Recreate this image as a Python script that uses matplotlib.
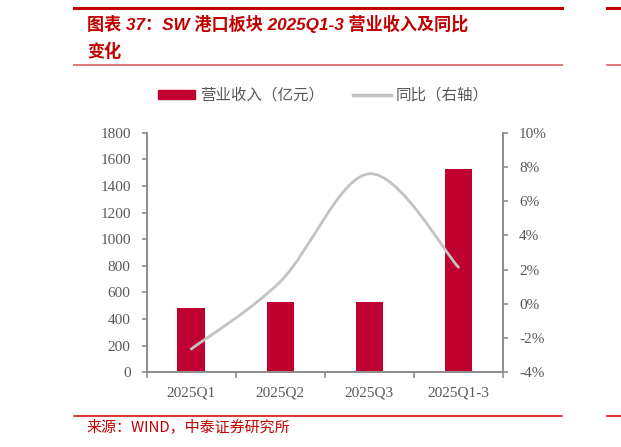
import matplotlib
matplotlib.use("Agg")
import matplotlib.pyplot as plt
import matplotlib.patches as mpatches
from matplotlib.lines import Line2D
from matplotlib.path import Path
from matplotlib.ticker import FuncFormatter, FixedLocator

# data
categories = ['2025Q1', '2025Q2', '2025Q3', '2025Q1-3']
revenue = [481, 526, 530, 1527]          # 营业收入（亿元）
yoy = [-2.64, 1.3, 7.6, 2.14]            # 同比（%，右轴）

bar_color = '#C00030'
line_color = '#C3C3C3'
axis_color = '#8C8C8C'
text_gray = '#595959'
W, H = 621, 447

fig = plt.figure(figsize=(W / 100, H / 100), dpi=100)

# title block with red rules
def hline(y, x0, x1, color, lw):
    fig.add_artist(Line2D([x0 / W, x1 / W], [1 - y / H, 1 - y / H], color=color, lw=lw))

hline(8, 74, 562, '#C00000', 2.2)
hline(8, 607, 621, '#C00000', 2.2)
hline(64.5, 74, 562, '#E07878', 1.4)
hline(64.5, 607, 621, '#E07878', 1.4)
hline(415.7, 74, 562, '#D00000', 1.1)
hline(415.7, 607, 621, '#D00000', 1.1)

title_font = dict(family=['Liberation Sans', 'Noto Sans CJK SC'], fontweight='bold',
                  fontstyle='italic', color='#C00000', fontsize=12.3)
fig.text(87 / W, 1 - 23.5 / H, '图表 37：SW 港口板块 2025Q1-3 营业收入及同比', va='center', **title_font)
fig.text(87 / W, 1 - 51.5 / H, '变化', va='center', **title_font)

fig.text(86 / W, 1 - 427 / H, '来源：WIND，中泰证券研究所', va='center', color='#C00000',
         fontsize=10.8, family=['Noto Sans CJK SC', 'DejaVu Sans'])

# main axes
ax = fig.add_axes([146.7 / W, 1 - 372.3 / H, (503 - 146.7) / W, (372.3 - 132.7) / H])
x = list(range(len(categories)))
ax.bar(x, revenue, width=0.31, color=bar_color, zorder=2)
ax.set_xlim(-0.5, len(categories) - 0.5)
ax.set_ylim(0, 1800)
ax.set_yticks(range(0, 1801, 200))

ax2 = ax.twinx()
ax2.set_ylim(-4, 10)
ax2.set_yticks(range(-4, 11, 2))
ax2.yaxis.set_major_formatter(FuncFormatter(lambda v, p: f'{v:.0f}%'))

# smooth line (Catmull-Rom bezier like the office chart smoothing)
pts = list(zip(x, yoy))
verts = [pts[0]]
codes = [Path.MOVETO]
for i in range(len(pts) - 1):
    p0 = pts[max(i - 1, 0)]
    p1 = pts[i]
    p2 = pts[i + 1]
    p3 = pts[min(i + 2, len(pts) - 1)]
    c1 = (p1[0] + (p2[0] - p0[0]) / 6, p1[1] + (p2[1] - p0[1]) / 6)
    c2 = (p2[0] - (p3[0] - p1[0]) / 6, p2[1] - (p3[1] - p1[1]) / 6)
    verts += [c1, c2, p2]
    codes += [Path.CURVE4] * 3
ax2.add_patch(mpatches.PathPatch(Path(verts, codes), facecolor='none', edgecolor=line_color,
                                 lw=2.0, capstyle='round', zorder=3))

# ticks: boundaries on x axis, labels at centres
ax.xaxis.set_major_locator(FixedLocator([i - 0.5 for i in range(len(categories) + 1)]))
ax.xaxis.set_minor_locator(FixedLocator(x))
ax.set_xticklabels([])
ax.set_xticklabels(categories, minor=True)
ax.tick_params(axis='x', which='major', direction='out', length=4, width=1.2, color=axis_color)
ax.tick_params(axis='x', which='minor', length=0, pad=10, labelsize=11, labelcolor=text_gray)
ax.tick_params(axis='y', direction='out', length=3.5, width=1.2, color=axis_color, pad=8,
               labelsize=11, labelcolor=text_gray)
ax2.tick_params(axis='y', direction='out', length=3.5, width=1.2, color=axis_color, pad=8,
                labelsize=11, labelcolor=text_gray)

for a in (ax, ax2):
    a.spines['top'].set_visible(False)
    for s in a.spines.values():
        s.set_color(axis_color)
        s.set_linewidth(1.4)
ax.spines['right'].set_visible(False)
ax2.spines['left'].set_visible(False)
ax2.spines['bottom'].set_visible(False)

for lbl in ax.get_xticklabels(minor=True) + ax.get_yticklabels() + ax2.get_yticklabels():
    lbl.set_family('Liberation Serif')

# legend
handles = [mpatches.Patch(color=bar_color, label='营业收入（亿元）'),
           Line2D([], [], color=line_color, lw=2.5, label='同比（右轴）')]
fig.legend(handles=handles, loc='center', bbox_to_anchor=(323 / W, 1 - 95.5 / H), ncol=2,
           frameon=False, handlelength=2.4, handleheight=0.5, handletextpad=0.3,
           columnspacing=1.9, prop={'family': ['Noto Sans CJK SC'], 'size': 11.2},
           labelcolor=text_gray)

fig.savefig('out.png', dpi=100)
